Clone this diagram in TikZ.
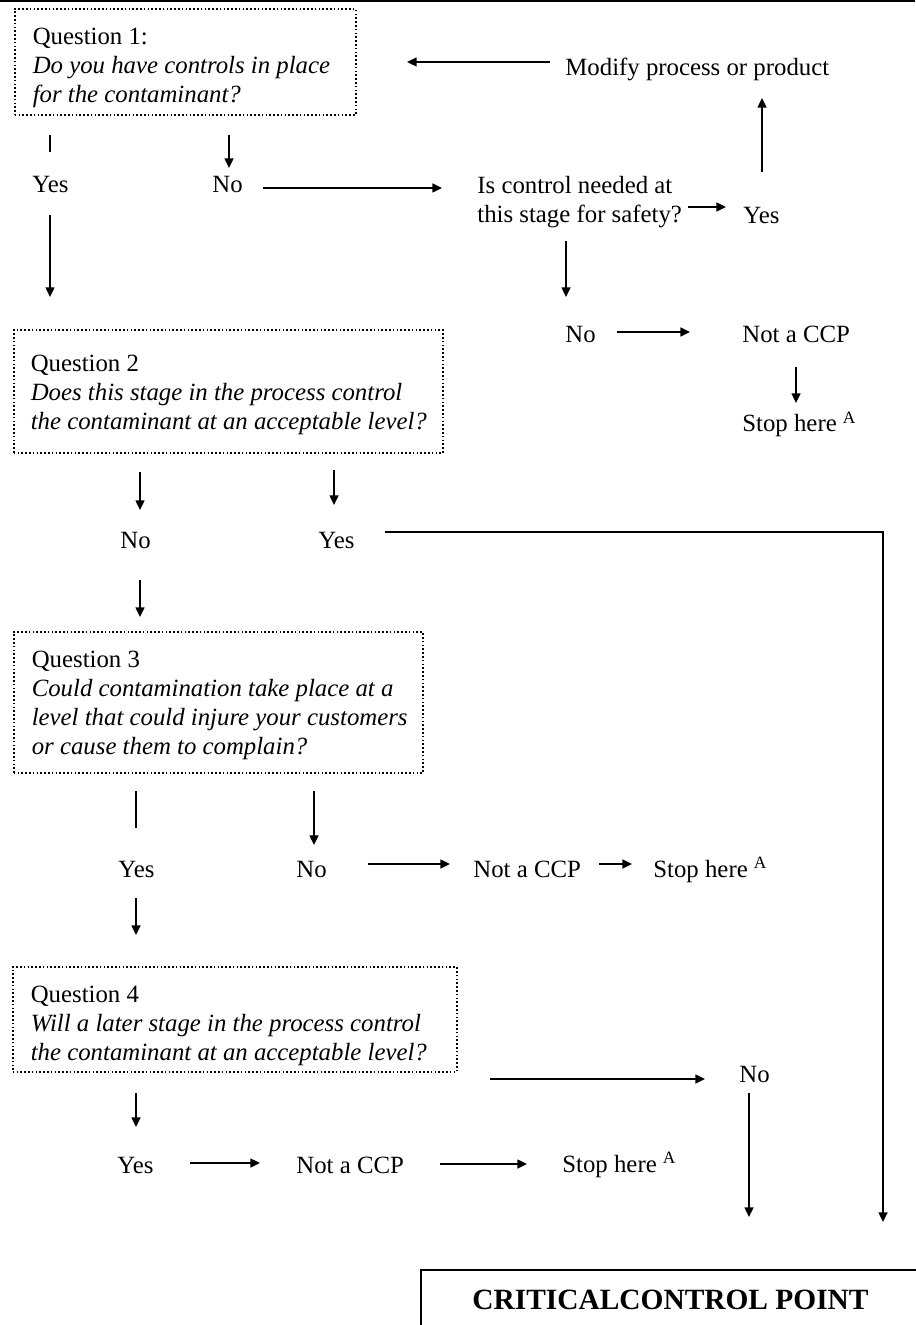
\documentclass[tikz,border=0pt]{standalone}
\usepackage{fontspec}
\setmainfont{Liberation Serif}
\usetikzlibrary{arrows.meta}
\newcommand\lblfont{\fontsize{12.4pt}{14.5pt}\selectfont}
\newcommand\ccpfont{\fontsize{14.7pt}{17pt}\selectfont\bfseries}
\begin{document}
\begin{tikzpicture}[x=0.5pt,y=-0.5pt,
  lbl/.style={font=\lblfont, inner sep=0pt, anchor=base west},
  qnode/.style={draw, line width=0.8pt, dash pattern=on 0.8pt off 1.1pt, inner sep=0pt, anchor=base west, font=\lblfont},
  arr/.style={line width=0.9pt, -{Triangle[length=4.8pt,width=4.4pt]}},
  plainline/.style={line width=0.9pt}]

\useasboundingbox (0,0) rectangle (915,1325);
\draw[line width=1.4pt] (0,1) -- (915,1);

% question boxes
\node[qnode, text height=18pt, text depth=35pt] (q1) at (14,45)
  {\parbox[t]{170.5pt}{\raggedright\leftskip=9pt Question 1:\\ \textit{Do you have controls in place}\\ \textit{for the contaminant?}}};
\node[qnode, text height=21pt, text depth=40.5pt] (q2) at (13,372)
  {\parbox[t]{214.5pt}{\raggedright\leftskip=8.5pt Question 2\\ \textit{Does this stage in the process control}\\ \textit{the contaminant at an acceptable level?}}};
\node[qnode, text height=17.5pt, text depth=53pt] (q3) at (13,667)
  {\parbox[t]{204.5pt}{\raggedright\leftskip=9pt Question 3\\ \textit{Could contamination take place at a}\\ \textit{level that could injure your customers}\\ \textit{or cause them to complain?}}};
\node[qnode, text height=17.5pt, text depth=35pt] (q4) at (12,1002)
  {\parbox[t]{222pt}{\raggedright\leftskip=9pt Question 4\\ \textit{Will a later stage in the process control}\\ \textit{the contaminant at an acceptable level?}}};

% labels
\node[lbl] (modify) at (565,76) {Modify process or product};
\node[lbl] (yes1) at (32,193) {Yes};
\node[lbl] (no1) at (212,193) {No};
\node[lbl] (isctrl) at (477,194) {\begin{tabular}[t]{@{}l@{}}Is control needed at\\ this stage for safety?\end{tabular}};
\node[lbl] (yes2) at (743,224) {Yes};
\node[lbl] (no2) at (565,343) {No};
\node[lbl] (notccp1) at (742,343) {Not a CCP};
\node[lbl] (stop1) at (742,432) {Stop here \textsuperscript{A}};
\node[lbl] (no3) at (120,548) {No};
\node[lbl] (yes3) at (318,548) {Yes};
\node[lbl] (yes4) at (118,877) {Yes};
\node[lbl] (no4) at (296,877) {No};
\node[lbl] (notccp2) at (473,877) {Not a CCP};
\node[lbl] (stop2) at (653,877) {Stop here \textsuperscript{A}};
\node[lbl] (no5) at (739,1082) {No};
\node[lbl] (yes5) at (117,1173) {Yes};
\node[lbl] (notccp3) at (296,1173) {Not a CCP};
\node[lbl] (stop3) at (562,1172) {Stop here \textsuperscript{A}};

\node[draw, line width=1pt, inner sep=0pt, anchor=north, minimum width=249.5pt,
      text height=19.5pt, text depth=20pt, font=\ccpfont] (ccp) at (670.5,1269) {CRITICALCONTROL POINT};

% connector end points
\coordinate (a1s) at (550,62);  \coordinate (a1e) at (407,62);
\coordinate (a2s) at (762,172); \coordinate (a2e) at (762,98);
\coordinate (a3s) at (50,135);  \coordinate (a3e) at (50,152);
\coordinate (a4s) at (229,135); \coordinate (a4e) at (229,168);
\coordinate (a5s) at (50,215);  \coordinate (a5e) at (50,297);
\coordinate (a6s) at (263,188); \coordinate (a6e) at (442,188);
\coordinate (a7s) at (688,207); \coordinate (a7e) at (726,207);
\coordinate (a8s) at (566,241); \coordinate (a8e) at (566,297);
\coordinate (a9s) at (617,332); \coordinate (a9e) at (690,332);
\coordinate (a10s) at (796,367); \coordinate (a10e) at (796,403);
\coordinate (a11s) at (140,472); \coordinate (a11e) at (140,510);
\coordinate (a12s) at (334,470); \coordinate (a12e) at (334,505);
\coordinate (a13s) at (385,532); \coordinate (a13c) at (883,532); \coordinate (a13e) at (883,1222);
\coordinate (a14s) at (140,580); \coordinate (a14e) at (140,617);
\coordinate (a15s) at (136,791); \coordinate (a15e) at (136,828);
\coordinate (a16s) at (314,791); \coordinate (a16e) at (314,845);
\coordinate (a17s) at (368,864); \coordinate (a17e) at (450,864);
\coordinate (a18s) at (599,864); \coordinate (a18e) at (632,864);
\coordinate (a19s) at (136,898); \coordinate (a19e) at (136,935);
\coordinate (a20s) at (136,1093); \coordinate (a20e) at (136,1127);
\coordinate (a21s) at (490,1079); \coordinate (a21e) at (705,1079);
\coordinate (a22s) at (749,1093); \coordinate (a22e) at (749,1217);
\coordinate (a23s) at (190,1163); \coordinate (a23e) at (260,1163);
\coordinate (a24s) at (440,1164); \coordinate (a24e) at (527,1164);

\draw[arr] (a1s) -- (a1e);
\draw[arr] (a2s) -- (a2e);
\draw[plainline] (a3s) -- (a3e);
\draw[arr] (a4s) -- (a4e);
\draw[arr] (a5s) -- (a5e);
\draw[arr] (a6s) -- (a6e);
\draw[arr] (a7s) -- (a7e);
\draw[arr] (a8s) -- (a8e);
\draw[arr] (a9s) -- (a9e);
\draw[arr] (a10s) -- (a10e);
\draw[arr] (a11s) -- (a11e);
\draw[arr] (a12s) -- (a12e);
\draw[arr] (a13s) -- (a13c) -- (a13e);
\draw[arr] (a14s) -- (a14e);
\draw[plainline] (a15s) -- (a15e);
\draw[arr] (a16s) -- (a16e);
\draw[arr] (a17s) -- (a17e);
\draw[arr] (a18s) -- (a18e);
\draw[arr] (a19s) -- (a19e);
\draw[arr] (a20s) -- (a20e);
\draw[arr] (a21s) -- (a21e);
\draw[arr] (a22s) -- (a22e);
\draw[arr] (a23s) -- (a23e);
\draw[arr] (a24s) -- (a24e);
\end{tikzpicture}
\end{document}
